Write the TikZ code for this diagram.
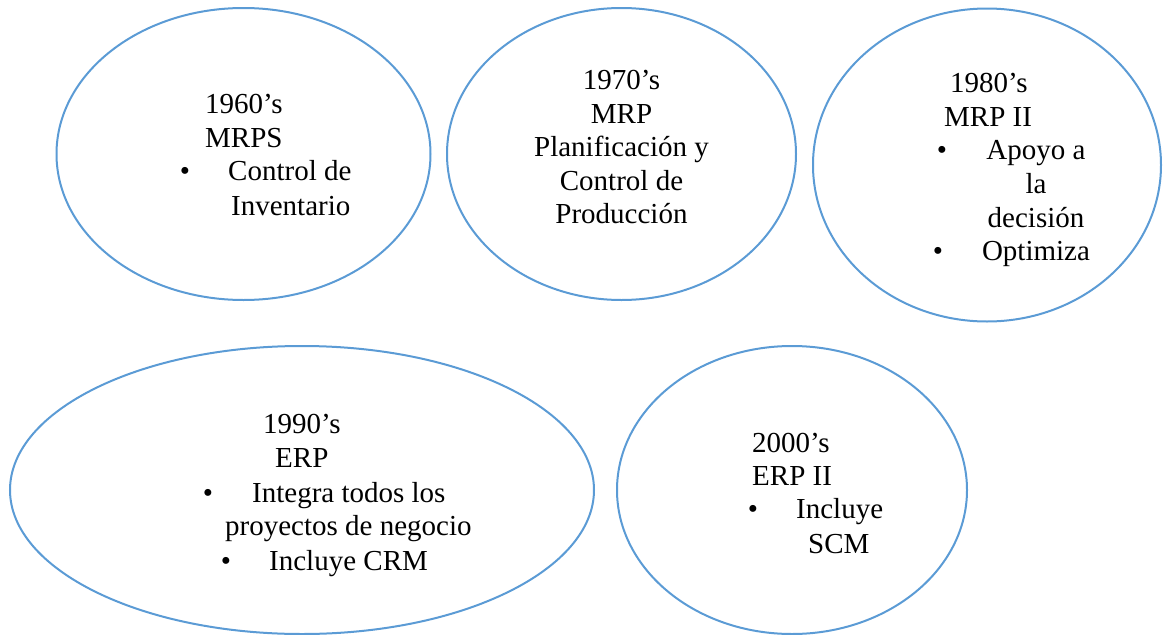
\documentclass[tikz,border=0pt]{standalone}
\usepackage{fontspec}
\setmainfont{Liberation Serif}
\usetikzlibrary{shapes.geometric}
\definecolor{ovalblue}{RGB}{91,155,213}
\begin{document}
\begin{tikzpicture}[x=1pt,y=-1pt,
  oval/.style={ellipse,draw=ovalblue,line width=2pt,inner sep=0pt},
  txt/.style={inner sep=0pt,anchor=base west,font=\fontsize{29}{34}\selectfont},
  ctxt/.style={inner sep=0pt,anchor=base,font=\fontsize{29}{34}\selectfont},
  bul/.style={inner sep=0pt,anchor=base,font=\fontsize{29}{34}\selectfont}]
\useasboundingbox (0,0) rectangle (1163,635);
% ellipses
\node[oval,minimum width=374pt,minimum height=292pt] (e1) at (243.5,154) {};
\node[oval,minimum width=349pt,minimum height=292pt] (e2) at (621.5,154) {};
\node[oval,minimum width=348pt,minimum height=313pt] (e3) at (987,165) {};
\node[oval,minimum width=584pt,minimum height=288pt] (e4) at (302,490) {};
\node[oval,minimum width=350pt,minimum height=288pt] (e5) at (792,490) {};
% 1960's
\node[txt] (t1a) at (205,113) {1960’s};
\node[txt] (t1b) at (205,147) {MRPS};
\node[bul] (b1a) at (185,180) {•};
\node[txt] (t1c) at (228,180) {Control de};
\node[txt] (t1d) at (231,215) {Inventario};
% 1970's
\node[ctxt] (t2a) at (621.5,89) {1970’s};
\node[ctxt] (t2b) at (621.5,123) {MRP};
\node[ctxt] (t2c) at (621.5,156) {Planificación y};
\node[ctxt] (t2d) at (621.5,190) {Control de};
\node[ctxt] (t2e) at (621.5,223) {Producción};
% 1980's
\node[txt] (t3a) at (950,92) {1980’s};
\node[txt] (t3b) at (944,126) {MRP II};
\node[bul] (b3a) at (942,159) {•};
\node[ctxt] (t3c) at (1036,159) {Apoyo a};
\node[ctxt] (t3d) at (1036,193) {la};
\node[ctxt] (t3e) at (1036,227) {decisión};
\node[bul] (b3b) at (938,260) {•};
\node[ctxt] (t3f) at (1036,260) {Optimiza};
% 1990's
\node[txt] (t4a) at (263,433) {1990’s};
\node[txt] (t4b) at (275,467) {ERP};
\node[bul] (b4a) at (208,502) {•};
\node[txt] (t4c) at (252,502) {Integra todos los};
\node[txt] (t4d) at (225,535) {proyectos de negocio};
\node[bul] (b4b) at (226,570) {•};
\node[txt] (t4e) at (269,570) {Incluye CRM};
% 2000's
\node[txt] (t5a) at (752,452) {2000’s};
\node[txt] (t5b) at (752,485) {ERP II};
\node[bul] (b5a) at (753,518) {•};
\node[txt] (t5c) at (796,518) {Incluye};
\node[txt] (t5d) at (808,553) {SCM};
\end{tikzpicture}
\end{document}
